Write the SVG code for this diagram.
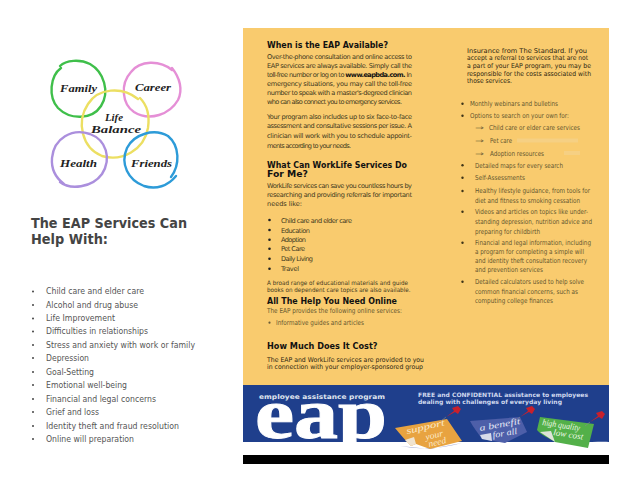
<svg xmlns="http://www.w3.org/2000/svg" width="638" height="493" viewBox="0 0 638 493">
<style>
text{font-family:"DejaVu Sans","Liberation Sans",sans-serif}
.l{font-size:8.6px;fill:#555}
.h1{font-size:14px;font-weight:bold;fill:#444}
.h{font-size:9px;font-weight:bold;fill:#111}
.b{font-size:6.6px;fill:#403820}
.m{font-size:6.8px;fill:#63562f}
.k{font-size:6.6px;fill:#2a2410}
.t{font-size:6.1px;fill:#403820}
.s{font-size:11px;font-style:italic;font-weight:bold;fill:#222;font-family:"Liberation Serif",serif}
.c{fill:none;stroke-width:2.4;stroke-linecap:round}
.n{font-family:"Liberation Serif",serif;font-style:italic;font-size:9px}
.bd{fill:#222}
</style>
<defs>
<g id="pin"><path d="M-7 5 L1 -1 L-1 -4 L5 -6 L8 -3 L5 2 L2 0 Z" fill="#c8202c"/><path d="M-7 5 L-12 9" stroke="#8a8a8a" stroke-width="0.6"/></g>
<filter id="soft" x="-10%" y="-10%" width="120%" height="120%"><feGaussianBlur stdDeviation="0.5"/></filter>
</defs>
<rect width="638" height="493" fill="#fff"/>

<g id="life-balance">
<path class="c" stroke="#3fbf4a" d="M60 66 C66 60 80 59 90 64 C104 72 110 92 101 106 C92 120 70 120 58 108 C48 97 50 76 61 68"/>
<path class="c" stroke="#e58fd6" d="M172 70 C160 60 140 60 131 72 C120 84 122 104 134 112 C150 122 170 114 178 100 C183 90 180 78 172 68"/>
<path class="c" stroke="#ecdf62" d="M138 99 C122 86 98 88 88 104 C76 122 82 148 102 156 C122 162 144 150 148 128 C150 114 146 104 140 98"/>
<path class="c" stroke="#ab8fdd" d="M60 182 C70 190 92 188 102 174 C112 158 106 140 90 134 C72 128 54 138 52 158 C51 170 56 178 64 184"/>
<path class="c" stroke="#2d9bd8" d="M171 177 C180 165 180 146 168 136 C154 128 134 134 127 148 C120 164 128 180 144 186 C156 190 168 186 176 176"/>
<text class="s" x="60" y="92" textLength="37" lengthAdjust="spacingAndGlyphs">Family</text>
<text class="s" x="135" y="91" textLength="36" lengthAdjust="spacingAndGlyphs">Career</text>
<text class="s" x="105" y="121" textLength="18" lengthAdjust="spacingAndGlyphs">Life</text>
<text class="s" x="91" y="133" textLength="50" lengthAdjust="spacingAndGlyphs">Balance</text>
<text class="s" x="60" y="167" textLength="37" lengthAdjust="spacingAndGlyphs">Health</text>
<text class="s" x="131" y="167" textLength="41" lengthAdjust="spacingAndGlyphs">Friends</text>
</g>

<g id="left-column">
<text class="h1" x="31" y="228" textLength="156" lengthAdjust="spacingAndGlyphs">The EAP Services Can</text>
<text class="h1" x="31" y="244" textLength="77" lengthAdjust="spacingAndGlyphs">Help With:</text>
<g fill="#444">
<circle cx="33" cy="291.5" r="1"/><circle cx="33" cy="305" r="1"/><circle cx="33" cy="318.500" r="1"/><circle cx="33" cy="331.500" r="1"/><circle cx="33" cy="345" r="1"/><circle cx="33" cy="358" r="1"/><circle cx="33" cy="372" r="1"/><circle cx="33" cy="385" r="1"/><circle cx="33" cy="399" r="1"/><circle cx="33" cy="412" r="1"/><circle cx="33" cy="426" r="1"/><circle cx="33" cy="439" r="1"/>
</g>
<text class="l" x="46" y="294" textLength="98" lengthAdjust="spacingAndGlyphs">Child care and elder care</text>
<text class="l" x="46" y="308" textLength="92" lengthAdjust="spacingAndGlyphs">Alcohol and drug abuse</text>
<text class="l" x="46" y="321" textLength="69" lengthAdjust="spacingAndGlyphs">Life Improvement</text>
<text class="l" x="46" y="334" textLength="102" lengthAdjust="spacingAndGlyphs">Difficulties in relationships</text>
<text class="l" x="46" y="348" textLength="149" lengthAdjust="spacingAndGlyphs">Stress and anxiety with work or family</text>
<text class="l" x="46" y="361" textLength="43" lengthAdjust="spacingAndGlyphs">Depression</text>
<text class="l" x="46" y="375" textLength="48" lengthAdjust="spacingAndGlyphs">Goal-Setting</text>
<text class="l" x="46" y="388" textLength="81" lengthAdjust="spacingAndGlyphs">Emotional well-being</text>
<text class="l" x="46" y="402" textLength="110" lengthAdjust="spacingAndGlyphs">Financial and legal concerns</text>
<text class="l" x="46" y="415" textLength="53" lengthAdjust="spacingAndGlyphs">Grief and loss</text>
<text class="l" x="46" y="429" textLength="133" lengthAdjust="spacingAndGlyphs">Identity theft and fraud resolution</text>
<text class="l" x="46" y="442" textLength="88" lengthAdjust="spacingAndGlyphs">Online will preparation</text>
</g>

<g id="panel">
<rect x="243" y="28" width="366" height="357" fill="#f9cb6e"/>
<rect x="517" y="138.500" width="61" height="4" fill="#f6d083" filter="url(#soft)"/>
<rect x="564" y="151" width="16" height="4" fill="#f6d083" filter="url(#soft)"/>
</g>

<g id="middle-column">
<text class="h" x="267" y="48" textLength="121" lengthAdjust="spacingAndGlyphs">When is the EAP Available?</text>
<text class="b" x="267" y="58.500" textLength="145">Over-the-phone consultation and online access to</text>
<text class="b" x="267" y="67.500" textLength="145">EAP services are always available. Simply call the</text>
<text class="b" x="267" y="76.500" textLength="145">toll-free number or log on to <tspan font-weight="bold" fill="#111">www.eapbda.com.</tspan> In</text>
<text class="b" x="267" y="85.500" textLength="145">emergency situations, you may call the toll-free</text>
<text class="b" x="267" y="94.500" textLength="145">number to speak with a master's-degreed clinician</text>
<text class="b" x="267" y="103.500" textLength="135">who can also connect you to emergency services.</text>
<text class="b" x="267" y="119" textLength="145">Your program also includes up to six face-to-face</text>
<text class="b" x="267" y="128" textLength="145">assessment and consultative sessions per issue. A</text>
<text class="b" x="267" y="138" textLength="145">clinician will work with you to schedule appoint-</text>
<text class="b" x="267" y="147.500" textLength="84">ments according to your needs.</text>
<text class="h" x="267" y="168" textLength="140" lengthAdjust="spacingAndGlyphs">What Can WorkLife Services Do</text>
<text class="h" x="267" y="177" textLength="41" lengthAdjust="spacingAndGlyphs">For Me?</text>
<text class="b" x="267" y="187.500" textLength="145">WorkLife services can save you countless hours by</text>
<text class="b" x="267" y="196.500" textLength="145">researching and providing referrals for important</text>
<text class="b" x="267" y="205.500" textLength="35">needs like:</text>
<g class="bd">
<circle cx="269.500" cy="220" r="1.300"/><circle cx="269.500" cy="230" r="1.300"/><circle cx="269.500" cy="239.700" r="1.300"/><circle cx="269.500" cy="248.700" r="1.300"/><circle cx="269.500" cy="258.700" r="1.300"/><circle cx="269.500" cy="268.700" r="1.300"/>
</g>
<text class="b" x="281" y="222.500" textLength="71">Child care and elder care</text>
<text class="b" x="281" y="232.500" textLength="29">Education</text>
<text class="b" x="281" y="242" textLength="25">Adoption</text>
<text class="b" x="281" y="251" textLength="24">Pet Care</text>
<text class="b" x="281" y="261" textLength="32">Daily Living</text>
<text class="b" x="281" y="271" textLength="18">Travel</text>
<text class="t" x="267" y="284.500" textLength="141" lengthAdjust="spacingAndGlyphs">A broad range of educational materials and guide</text>
<text class="t" x="267" y="291.500" textLength="143.500" lengthAdjust="spacingAndGlyphs">books on dependent care topics are also available.</text>
<text class="h" x="267" y="303.500" textLength="130" lengthAdjust="spacingAndGlyphs">All The Help You Need Online</text>
<text class="m" x="267" y="313" textLength="135" lengthAdjust="spacingAndGlyphs">The EAP provides the following online services:</text>
<circle cx="269.500" cy="322.700" r="1.100" fill="#6a5c38"/>
<text class="m" x="276" y="325" textLength="88" lengthAdjust="spacingAndGlyphs">Informative guides and articles</text>
<text class="h" x="267" y="349" textLength="110.500" lengthAdjust="spacingAndGlyphs">How Much Does It Cost?</text>
<text class="k" x="267" y="361.500" textLength="157" lengthAdjust="spacingAndGlyphs">The EAP and WorkLife services are provided to you</text>
<text class="k" x="267" y="369.200" textLength="156" lengthAdjust="spacingAndGlyphs">in connection with your employer-sponsored group</text>
</g>

<g id="right-column">
<text class="k" x="467" y="52.800" textLength="120" lengthAdjust="spacingAndGlyphs">Insurance from The Standard. If you</text>
<text class="k" x="467" y="60.400" textLength="121" lengthAdjust="spacingAndGlyphs">accept a referral to services that are not</text>
<text class="k" x="467" y="68" textLength="124" lengthAdjust="spacingAndGlyphs">a part of your EAP program, you may be</text>
<text class="k" x="467" y="75.600" textLength="124" lengthAdjust="spacingAndGlyphs">responsible for the costs associated with</text>
<text class="k" x="467" y="83.200" textLength="45" lengthAdjust="spacingAndGlyphs">those services.</text>
<g fill="#3e3418">
<circle cx="462.500" cy="103.700" r="1.200"/><circle cx="462.500" cy="115.700" r="1.200"/><circle cx="462.500" cy="165.300" r="1.200"/><circle cx="462.500" cy="177.700" r="1.200"/><circle cx="462.500" cy="191" r="1.200"/><circle cx="462.500" cy="211.700" r="1.200"/><circle cx="462.500" cy="242.700" r="1.200"/><circle cx="462.500" cy="281.700" r="1.200"/>
</g>
<text class="m" x="470" y="106" textLength="88" lengthAdjust="spacingAndGlyphs">Monthly webinars and bulletins</text>
<text class="m" x="470" y="118" textLength="99" lengthAdjust="spacingAndGlyphs">Options to search on your own for:</text>
<text class="m" x="475" y="130" textLength="9" lengthAdjust="spacingAndGlyphs">⇒</text>
<text class="m" x="489" y="130" textLength="91" lengthAdjust="spacingAndGlyphs">Child care or elder care services</text>
<text class="m" x="475" y="143" textLength="9" lengthAdjust="spacingAndGlyphs">⇒</text>
<text class="m" x="490" y="143" textLength="22" lengthAdjust="spacingAndGlyphs">Pet care</text>
<text class="m" x="475" y="155.500" textLength="9" lengthAdjust="spacingAndGlyphs">⇒</text>
<text class="m" x="490" y="155.500" textLength="54" lengthAdjust="spacingAndGlyphs">Adoption resources</text>
<text class="m" x="475" y="167.500" textLength="88" lengthAdjust="spacingAndGlyphs">Detailed maps for every search</text>
<text class="m" x="475" y="180" textLength="50" lengthAdjust="spacingAndGlyphs">Self-Assessments</text>
<text class="m" x="475" y="193" textLength="115" lengthAdjust="spacingAndGlyphs">Healthy lifestyle guidance, from tools for</text>
<text class="m" x="475" y="202.500" textLength="105" lengthAdjust="spacingAndGlyphs">diet and fitness to smoking cessation</text>
<text class="m" x="475" y="214" textLength="113" lengthAdjust="spacingAndGlyphs">Videos and articles on topics like under-</text>
<text class="m" x="475" y="224" textLength="117" lengthAdjust="spacingAndGlyphs">standing depression, nutrition advice and</text>
<text class="m" x="475" y="233.500" textLength="65" lengthAdjust="spacingAndGlyphs">preparing for childbirth</text>
<text class="m" x="475" y="245" textLength="116" lengthAdjust="spacingAndGlyphs">Financial and legal information, including</text>
<text class="m" x="475" y="254" textLength="109" lengthAdjust="spacingAndGlyphs">a program for completing a simple will</text>
<text class="m" x="475" y="263" textLength="112" lengthAdjust="spacingAndGlyphs">and identity theft consultation recovery</text>
<text class="m" x="475" y="272" textLength="68" lengthAdjust="spacingAndGlyphs">and prevention services</text>
<text class="m" x="475" y="284" textLength="109" lengthAdjust="spacingAndGlyphs">Detailed calculators used to help solve</text>
<text class="m" x="475" y="294" textLength="103" lengthAdjust="spacingAndGlyphs">common financial concerns, such as</text>
<text class="m" x="475" y="303" textLength="78" lengthAdjust="spacingAndGlyphs">computing college finances</text>
</g>

<g id="banner">
<rect x="243" y="385" width="366" height="57" fill="#1f3f8c"/>
<path d="M243 442 H440 C470 446 500 440 530 443 C560 446 590 441 609 442 V455 H243Z" fill="#fff"/>
<rect x="243" y="455" width="366" height="9" fill="#000"/>
<text x="259" y="399" font-size="6.500" font-weight="bold" fill="#dfe4ef" textLength="126" lengthAdjust="spacingAndGlyphs">employee assistance program</text>
<text x="255" y="438" style="font-family:'Liberation Serif',serif" font-size="72" font-weight="bold" fill="#fff" stroke="#fff" stroke-width="1" textLength="132" lengthAdjust="spacingAndGlyphs">eap</text>
<text x="418" y="397" font-size="6" font-weight="bold" fill="#cfd8ee" textLength="170" lengthAdjust="spacingAndGlyphs">FREE and CONFIDENTIAL assistance to employees</text>
<text x="418" y="404" font-size="6" font-weight="bold" fill="#cfd8ee" textLength="144" lengthAdjust="spacingAndGlyphs">dealing with challenges of everyday living</text>
<g filter="url(#soft)">
<path d="M400 446 Q430 452 462 443 L430 449Z" fill="#9aa3d0"/>
<path d="M395 428 L447 419 L462 441 L430 449 L416 444 L411 446 C405 440 400 434 395 428Z" fill="#e8a33f"/>
<path d="M411 446 L416 444 L414 437 L405 440Z" fill="#f0e4d0"/>
<path d="M470 421 L520 417 L527 432 L505 443 L482 439 C478 433 473 427 470 421Z" fill="#4e5ea9"/>
<path d="M482 439 L492 441 L491 433 L480 435Z" fill="#d8dbea"/>
<path d="M540 417 L594 424 L588 448 L555 442 C549 438 541 435 537 430Z" fill="#52b04a"/>
<path d="M555 442 L551 431 L540 432Z" fill="#dde3d8"/>
</g>
<use href="#pin" x="453" y="412"/>
<use href="#pin" x="527" y="412"/>
<use href="#pin" x="597" y="417"/>
<text class="n" x="407" y="434" fill="#fbe9c8" textLength="39" lengthAdjust="spacingAndGlyphs" transform="rotate(-13 407 434)">support</text>
<text class="n" x="426" y="440" fill="#fbe9c8" textLength="18" lengthAdjust="spacingAndGlyphs" transform="rotate(-13 426 440)">your</text>
<text class="n" x="429" y="447" fill="#fbe9c8" textLength="18" lengthAdjust="spacingAndGlyphs" transform="rotate(-13 429 447)">need</text>
<text class="n" x="480" y="431" fill="#e4e8f6" textLength="41" lengthAdjust="spacingAndGlyphs" transform="rotate(-10 480 431)">a benefit</text>
<text class="n" x="493" y="438" fill="#e4e8f6" textLength="25" lengthAdjust="spacingAndGlyphs" transform="rotate(-10 493 438)">for all</text>
<text class="n" x="542" y="425" fill="#eef8e6" textLength="38" lengthAdjust="spacingAndGlyphs" transform="rotate(9 542 425)">high quality</text>
<text class="n" x="553" y="435" fill="#eef8e6" textLength="30" lengthAdjust="spacingAndGlyphs" transform="rotate(9 553 435)">low cost</text>
</g>
</svg>
